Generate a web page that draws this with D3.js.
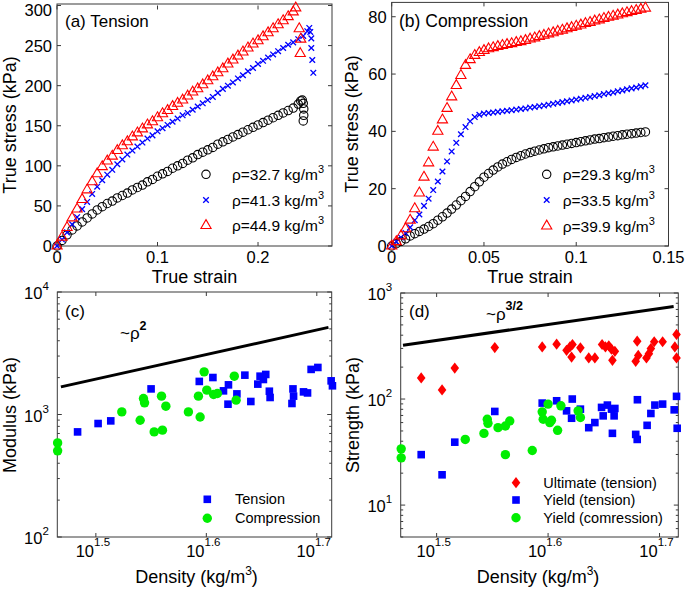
<!DOCTYPE html>
<html><head><meta charset="utf-8">
<script src="https://cdn.jsdelivr.net/npm/d3@7"></script>
<style>
body{margin:0;background:#fff}
svg{display:block}
text{font-family:"Liberation Sans",Arial,Helvetica,sans-serif;fill:#000}
</style>
</head><body>
<svg id="chart" width="685" height="592"></svg>
<script>
// ---------------- DATA ----------------
// (a) Tension: true strain / true stress (kPa)
const strainA = [0,0.005,0.01,0.015,0.02,0.025,0.03,0.035,0.04,0.045,0.05,0.055,0.06,0.065,0.07,0.075,0.08,0.085,0.09,0.095,0.1,0.105,0.11,0.115,0.12,0.125,0.13,0.135,0.14,0.145,0.15,0.155,0.16,0.165,0.17,0.175,0.18,0.185,0.19,0.195,0.2,0.205,0.21,0.215,0.22,0.225,0.23,0.235,0.24];
const stressA327 = [0,7,14,20,25,30,35,40,45,49,53,56,60,63,66,70,73,76,80,83,87,90,93,97,100,103,107,110,114,117,120,123,127,130,133,136,139,142,145,148,151,154,157,160,163,166,169,172,177];
const tailStrainA327 = [0.2425,0.244,0.245,0.2455,0.2455,0.245];
const tailStressA327 = [181,182,178,171,163,156];
const stressA413 = [0,8,17,27,36,46,55,65,74,82,89,95,102,108,114,119,124,129,134,138,143,147,151,155,159,163,166,170,174,178,182,186,191,196,200,204,209,213,218,222,227,231,235,239,243,247,251,254,258];
const tailStrainA413 = [0.245,0.249,0.251,0.252,0.253,0.253,0.254,0.255];
const tailStressA413 = [262,268,272,267,259,247,232,216];
const stressA449 = [0,11,23,35,46,58,70,80,90,99,106,112,119,125,130,136,141,146,151,155,160,165,169,174,178,182,187,192,196,201,206,211,216,221,227,232,237,242,247,252,256,261,266,271,276,281,286,292];
const tailStrainA449 = [0.2375,0.241,0.2425,0.242];
const tailStressA449 = [297,271,258,240];
const labelsA = ["ρ=32.7 kg/m", "ρ=41.3 kg/m", "ρ=44.9 kg/m"];

// (b) Compression
const strainB = [0,0.0025,0.005,0.0075,0.01,0.0125,0.015,0.0175,0.02,0.0225,0.025,0.0275,0.03,0.0325,0.035,0.0375,0.04,0.0425,0.045,0.0475,0.05,0.0525,0.055,0.0575,0.06,0.0625,0.065,0.0675,0.07,0.0725,0.075,0.0775,0.08,0.0825,0.085,0.0875,0.09,0.0925,0.095,0.0975,0.1,0.1025,0.105,0.1075,0.11,0.1125,0.115,0.1175,0.12,0.1225,0.125,0.1275,0.13,0.1325,0.135,0.1375];
const stressB293 = [0,0.8,1.6,2.5,3.5,4.3,5.1,5.9,6.8,7.8,9,10.2,11.5,12.9,14.3,15.8,17.3,19,20.7,22.4,24,25.3,26.5,27.6,28.6,29.4,30.2,30.9,31.5,32.1,32.6,33.1,33.5,33.9,34.3,34.6,34.9,35.2,35.5,35.8,36.1,36.4,36.7,37,37.3,37.5,37.8,38,38.3,38.5,38.8,39,39.2,39.4,39.6,39.8];
const stressB335 = [0,1.5,3,4.5,6.5,9,11,14,16.5,19.5,22.5,26,29.5,33,36,39,41.5,43.5,45,45.8,46.2,46.4,46.6,46.8,47,47.2,47.4,47.6,47.8,48,48.3,48.5,48.8,49,49.3,49.6,49.9,50.2,50.5,50.8,51.1,51.4,51.7,52,52.3,52.6,53,53.3,53.6,54,54.3,54.7,55,55.3,55.7,56.1];
const stressB399 = [0,1.5,3.5,6,9,13,18.5,24,29,34.5,40,44,48,52,56,59.5,63,65,66.5,67.5,68.2,68.8,69.2,69.6,70,70.3,70.6,71,71.3,71.7,72.2,72.6,73.1,73.5,74,74.4,74.9,75.3,75.8,76.2,76.7,77.1,77.6,78,78.5,78.9,79.4,79.8,80.2,80.6,81,81.4,81.8,82.2,82.6,83];
const labelsB = ["ρ=29.3 kg/m", "ρ=33.5 kg/m", "ρ=39.9 kg/m"];

// (c) Modulus vs density
const tensionDensityC = [30.44,31.77,32.62,35.48,39.23,40.36,41.26,41.69,41.65,42.43,43.14,43.68,44.32,44.53,44.84,45.06,45.40,45.47,47.69,47.75,47.59,48.75,49.16,49.53,50.23,51.64,51.78];
const tensionModulusC = [721,844,887,1618,1862,2004,1560,1746,1214,1473,2095,1277,1770,2055,1931,2123,1549,1377,1618,1412,1230,1530,1500,2334,2421,1882,1715];
const compressionDensityC = [29.2,29.2,33.38,34.68,34.92,35.0,35.71,36.33,36.26,36.59,38.35,39.30,39.16,39.63,39.85,40.42,40.74,42.2,42.36];
const compressionModulusC = [586,505,1050,898,1349,1245,721,745,1412,1169,1050,955,1412,2230,1581,1455,1485,2055,1309];
const powerLawDensityC = [29.4, 51.35];
const powerLawModulusC = [1681, 5140];
const legendC = ["Tension", "Compression"];

// (d) Strength vs density
const ultDensity = [30.63,31.98,32.83,35.66,39.33,40.52,41.36,41.65,41.79,41.87,42.56,43.3,43.85,44.51,44.82,45.13,45.38,45.70,45.47,47.71,47.86,47.96,48.78,49.03,49.57,49.23,50.44,51.91,51.73,51.91];
const ultStrength = [158,122,196,306,310,329,288,310,249,327,304,244,244,327,310,318,295,282,232,227,351,258,244,268,347,299,347,407,310,244];
const yieldTDensity = [30.63,31.98,32.83,35.66,39.33,40.52,41.36,41.79,41.85,42.56,43.3,43.85,44.46,44.61,45.0,45.38,45.63,45.70,45.47,47.71,47.86,47.88,48.85,49.23,49.64,50.44,51.91,51.66,51.98];
const yieldTStrength = [29.9,19.3,39.2,76.4,91.6,96.3,77.4,65.9,100,80.3,53.7,60,83.4,69.4,87.7,80.3,69.4,81.5,47.5,46.4,41.6,98.5,56.5,73.1,87.7,89.6,106,79.1,53];
const yieldCDensity = [29.39,29.39,33.55,34.87,35.11,35.16,35.9,36.45,36.45,36.78,38.53,39.33,39.41,39.81,39.95,40.09,40.6,40.88,42.36,42.56];
const yieldCStrength = [33.9,27.9,41.6,47.4,64.5,59,53.7,29.9,55.7,62.1,32.7,75.7,64.5,89.6,60,63,50.7,86.3,77.4,67];
const powerLawDensityD = [29.5, 51.6];
const powerLawStrengthD = [322, 746];
const legendD = ["Ultimate (tension)", "Yield (tension)", "Yield (comression)"];

// tick values
const ticksAx = [0, 0.1, 0.2];
const ticksAy = [0, 50, 100, 150, 200, 250, 300];
const ticksBx = [0, 0.05, 0.1, 0.15];
const ticksBy = [0, 20, 40, 60, 80];
const ticksLogX = [1.5, 1.6, 1.7];

// ---------------- DRAWING ----------------
const svg = d3.select("#chart");
const FRAME = "#3a3a3a";
const TICKFS = 16.5;
const RED = "#ff0000", BLUE = "#0000ff", GREEN = "#00ee00";

function marker(g, type, cx, cy, color) {
  if (type === "o") {
    g.append("circle").attr("cx", cx).attr("cy", cy).attr("r", 4.2)
      .attr("fill", "none").attr("stroke", color).attr("stroke-width", 1.1);
  } else if (type === "x") {
    const s = 2.8;
    g.append("path").attr("d", `M${cx-s},${cy-s}L${cx+s},${cy+s}M${cx-s},${cy+s}L${cx+s},${cy-s}`)
      .attr("stroke", color).attr("stroke-width", 1.3).attr("fill", "none");
  } else if (type === "^") {
    const r = 5.9;
    g.append("path").attr("d", `M${cx},${cy-r}L${cx+r*0.866},${cy+r*0.5}L${cx-r*0.866},${cy+r*0.5}Z`)
      .attr("stroke", color).attr("stroke-width", 1.1).attr("fill", "none");
  } else if (type === "s") {
    const h = 3.8;
    g.append("rect").attr("x", cx-h).attr("y", cy-h).attr("width", 2*h).attr("height", 2*h).attr("fill", color);
  } else if (type === "O") {
    g.append("circle").attr("cx", cx).attr("cy", cy).attr("r", 4.7).attr("fill", color);
  } else if (type === "d") {
    g.append("path").attr("d", `M${cx},${cy-5.6}L${cx+4.3},${cy}L${cx},${cy+5.6}L${cx-4.3},${cy}Z`).attr("fill", color);
  }
}

function frame(g, x0, x1, y0, y1) {
  g.append("rect").attr("x", x0).attr("y", y1).attr("width", x1-x0).attr("height", y0-y1)
    .attr("fill", "none").attr("stroke", FRAME).attr("stroke-width", 1);
}

function tickLine(g, x1, y1, x2, y2) {
  g.append("line").attr("x1", x1).attr("y1", y1).attr("x2", x2).attr("y2", y2)
    .attr("stroke", FRAME).attr("stroke-width", 1);
}

function linearAxes(g, x, y, xt, yt) {
  const [x0, x1] = x.range(), [y0, y1] = y.range();
  xt.forEach(v => {
    const px = x(v);
    tickLine(g, px, y0, px, y0-4); tickLine(g, px, y1, px, y1+4);
    g.append("text").attr("x", px).attr("y", y0+17).attr("text-anchor", "middle")
      .attr("font-size", TICKFS).text(String(v));
  });
  yt.forEach(v => {
    const py = y(v);
    tickLine(g, x0, py, x0+4, py); tickLine(g, x1, py, x1-4, py);
    g.append("text").attr("x", x0-5).attr("y", Math.max(py+6, 15.5)).attr("text-anchor", "end")
      .attr("font-size", TICKFS).text(String(v));
  });
}

function supText(g, x, y, base, sup, fs, anchor, supFs, dy, supBold) {
  const t = g.append("text").attr("x", x).attr("y", y).attr("font-size", fs).attr("text-anchor", anchor);
  t.append("tspan").text(base);
  t.append("tspan").attr("dy", dy).attr("font-size", supFs).attr("font-weight", supBold ? "bold" : null).text(sup);
  return t;
}

function logAxes(g, x, y, yMajors, yMinors) {
  const [x0, x1] = x.range(), [y0, y1] = y.range();
  ticksLogX.forEach(e => {
    const px = x(Math.pow(10, e));
    tickLine(g, px, y0, px, y0-4); tickLine(g, px, y1, px, y1+4);
    supText(g, px-3, y0+19.5, "10", String(e), TICKFS, "middle", 11.5, -10.5, false);
  });
  yMajors.forEach(v => {
    const py = y(v);
    tickLine(g, x0, py, x0+4.5, py); tickLine(g, x1, py, x1-4.5, py);
    supText(g, x0-8.5, py+7, "10", String(Math.round(Math.log10(v))), TICKFS, "end", 11.5, -9, false);
  });
  yMinors.forEach(v => {
    const py = y(v);
    tickLine(g, x0, py, x0+2.5, py); tickLine(g, x1, py, x1-2.5, py);
  });
}

function yLabel(g, x, y, s) {
  g.append("text").attr("transform", `translate(${x},${y}) rotate(-90)`).attr("text-anchor", "middle")
    .attr("font-size", 18).text(s);
}

// ----- (a) -----
{
  const g = svg.append("g");
  const x = d3.scaleLinear().domain([0, 0.2736]).range([57, 332]);
  const y = d3.scaleLinear().domain([0, 300]).range([246, 5.5]);
  frame(g, 57, 332, 246, 4);
  linearAxes(g, x, y, ticksAx, ticksAy);
  const series = [
    {s: strainA.concat(tailStrainA327), v: stressA327.concat(tailStressA327), m: "o", c: "#000"},
    {s: strainA.concat(tailStrainA413), v: stressA413.concat(tailStressA413), m: "x", c: BLUE},
    {s: strainA.slice(0, stressA449.length).concat(tailStrainA449), v: stressA449.concat(tailStressA449), m: "^", c: RED}
  ];
  series.forEach(sr => sr.s.forEach((e, i) => marker(g, sr.m, x(e), y(sr.v[i]), sr.c)));
  g.append("text").attr("x", 65).attr("y", 27).attr("font-size", 17).text("(a) Tension");
  g.append("text").attr("x", 194.5).attr("y", 283).attr("text-anchor", "middle").attr("font-size", 18).text("True strain");
  yLabel(g, 15.5, 125, "True stress (kPa)");
  const rows = [174.3, 200, 225.5];
  series.forEach((sr, i) => {
    marker(g, sr.m, 206, rows[i], sr.c);
    supText(g, 232, rows[i]+5.5, labelsA[i], "3", 15.5, "start", 11, -7, false);
  });
}

// ----- (b) -----
{
  const g = svg.append("g");
  const x = d3.scaleLinear().domain([0, 0.15]).range([391.7, 668.5]);
  const y = d3.scaleLinear().domain([0, 85]).range([246, 2.4]);
  frame(g, 391.7, 668.5, 246, 2.4);
  linearAxes(g, x, y, ticksBx, ticksBy);
  const series = [
    {v: stressB293, m: "o", c: "#000"},
    {v: stressB335, m: "x", c: BLUE},
    {v: stressB399, m: "^", c: RED}
  ];
  series.forEach(sr => strainB.forEach((e, i) => marker(g, sr.m, x(e), y(sr.v[i]), sr.c)));
  g.append("text").attr("x", 399).attr("y", 27).attr("font-size", 17.5).text("(b) Compression");
  g.append("text").attr("x", 530).attr("y", 283).attr("text-anchor", "middle").attr("font-size", 18).text("True strain");
  yLabel(g, 358, 124, "True stress (kPa)");
  const rows = [174.3, 200, 226];
  series.forEach((sr, i) => {
    marker(g, sr.m, 546.7, rows[i], sr.c);
    supText(g, 562.7, rows[i]+5.5, labelsB[i], "3", 15.5, "start", 11, -7, false);
  });
}

// ----- (c) -----
{
  const g = svg.append("g");
  const x = d3.scaleLog().domain([29.18, 51.7]).range([57.3, 331.7]);
  const y = d3.scaleLog().domain([100, 10000]).range([537, 292]);
  frame(g, 57.3, 331.7, 537, 292);
  const minors = [200,300,400,500,600,700,800,900,2000,3000,4000,5000,6000,7000,8000,9000];
  logAxes(g, x, y, [100, 1000, 10000], minors);
  g.append("path").attr("d", d3.line()(powerLawDensityC.map((d, i) => [x(d), y(powerLawModulusC[i])])))
    .attr("stroke", "#000").attr("stroke-width", 3).attr("fill", "none");
  tensionDensityC.forEach((d, i) => marker(g, "s", x(d), y(tensionModulusC[i]), BLUE));
  compressionDensityC.forEach((d, i) => marker(g, "O", x(d), y(compressionModulusC[i]), GREEN));
  g.append("text").attr("x", 65).attr("y", 317).attr("font-size", 17).text("(c)");
  supText(g, 120, 339, "~ρ", "2", 17, "start", 12.5, -9, true);
  supText(g, 196.5, 583, "Density (kg/m", "3", 18, "middle", 12, -8, false).append("tspan").attr("dy", 8).attr("font-size", 18).text(")");
  yLabel(g, 15.5, 415, "Modulus (kPa)");
  marker(g, "s", 207.3, 499.3, BLUE);
  marker(g, "O", 207.3, 518.3, GREEN);
  g.append("text").attr("x", 235).attr("y", 499.3+5).attr("font-size", 14.5).text(legendC[0]);
  g.append("text").attr("x", 235).attr("y", 518.3+5).attr("font-size", 14.5).text(legendC[1]);
}

// ----- (d) -----
{
  const g = svg.append("g");
  const x = d3.scaleLog().domain([29.36, 52.1]).range([400.7, 678.3]);
  const y = d3.scaleLog().domain([5, 1000]).range([537, 293]);
  frame(g, 400.7, 678.3, 537, 293);
  const minors = [5,6,7,8,9,20,30,40,50,60,70,80,90,200,300,400,500,600,700,800,900];
  logAxes(g, x, y, [10, 100, 1000], minors);
  g.append("path").attr("d", d3.line()(powerLawDensityD.map((d, i) => [x(d), y(powerLawStrengthD[i])])))
    .attr("stroke", "#000").attr("stroke-width", 3).attr("fill", "none");
  ultDensity.forEach((d, i) => marker(g, "d", x(d), y(ultStrength[i]), RED));
  yieldTDensity.forEach((d, i) => marker(g, "s", x(d), y(yieldTStrength[i]), BLUE));
  yieldCDensity.forEach((d, i) => marker(g, "O", x(d), y(yieldCStrength[i]), GREEN));
  g.append("text").attr("x", 409).attr("y", 317).attr("font-size", 17).text("(d)");
  supText(g, 486, 320, "~ρ", "3/2", 17, "start", 12.5, -10, true);
  supText(g, 538, 583, "Density (kg/m", "3", 18, "middle", 12, -8, false).append("tspan").attr("dy", 8).attr("font-size", 18).text(")");
  yLabel(g, 359, 415, "Strength (kPa)");
  const rows = [482.7, 500, 517.7];
  ["d", "s", "O"].forEach((m, i) => {
    marker(g, m, 516, rows[i], [RED, BLUE, GREEN][i]);
    g.append("text").attr("x", 543.3).attr("y", rows[i]+5).attr("font-size", 14.5).text(legendD[i]);
  });
}
</script>
</body></html>
